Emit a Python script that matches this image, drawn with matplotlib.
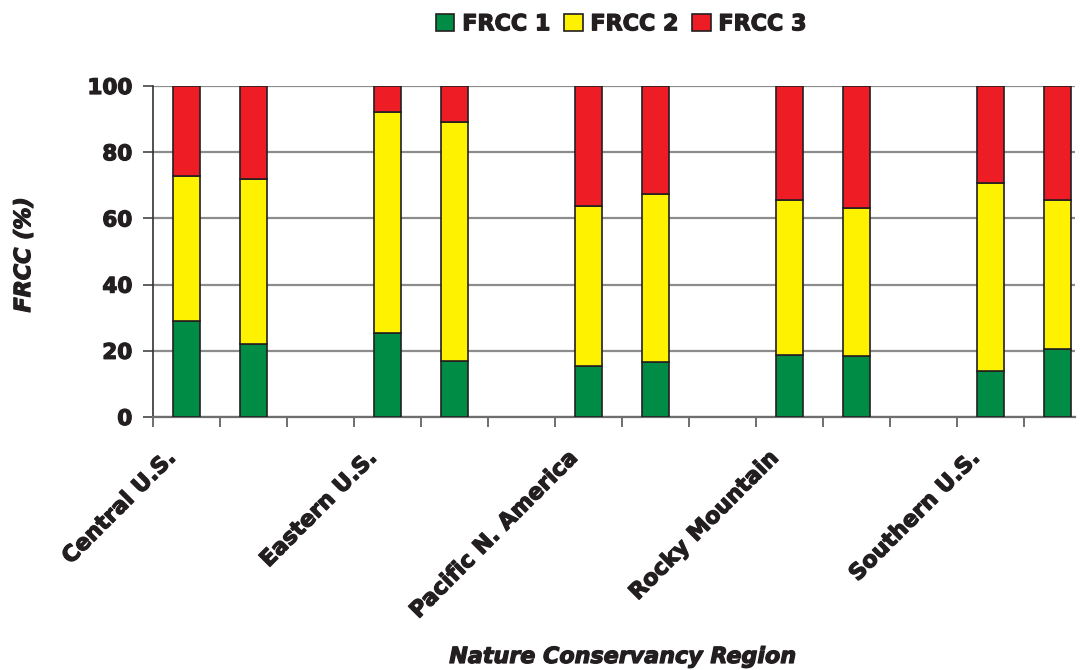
import matplotlib
matplotlib.use("Agg")
import matplotlib.pyplot as plt
import matplotlib.patheffects as pe
import matplotlib.transforms as mtransforms
from matplotlib.patches import Patch
import numpy as np

# Regions: two bars each, with an empty slot between groups
regions = ["Central U.S.", "Eastern U.S.", "Pacific N. America", "Rocky Mountain", "Southern U.S."]
series_names = ["FRCC 1", "FRCC 2", "FRCC 3"]
frcc1 = [29.0, 22.0, 25.4, 17.0, 15.3, 16.5, 18.7, 18.4, 13.8, 20.5]
frcc2 = [43.8, 50.0, 66.8, 72.1, 48.5, 50.8, 46.8, 44.6, 56.8, 45.0]
frcc3 = [27.2, 28.0, 7.8, 10.9, 36.2, 32.7, 34.5, 37.0, 29.4, 34.5]
colors = ["#008C44", "#FFF200", "#EE1C25"]
y_ticks = [0, 20, 40, 60, 80, 100]

TXT = "#231F20"
heavy = [pe.withStroke(linewidth=0.9, foreground=TXT)]

plt.rcParams["font.family"] = ["DejaVu Sans"]
plt.rcParams["font.weight"] = "bold"

fig = plt.figure(figsize=(10.84, 6.70), dpi=100)
ax = fig.add_axes([153 / 1084, 1 - 417 / 670, (1075 - 153) / 1084, (417 - 86) / 670])

# slot index of each bar: groups of 2 separated by a gap slot
positions = []
for g in range(len(regions)):
    positions += [3 * g, 3 * g + 1]
positions = np.array(positions)

bottom = np.zeros(len(positions))
for vals, col in zip([frcc1, frcc2, frcc3], colors):
    vals = np.array(vals)
    ax.bar(positions, vals, width=0.41, bottom=bottom, color=col,
           edgecolor=TXT, linewidth=1.2, zorder=3)
    bottom += vals

ax.set_xlim(-0.5, 13.26)
ax.set_ylim(0, 100)
ax.set_yticks(y_ticks)
ax.set_yticklabels([str(v) for v in y_ticks], fontsize=15.5, fontweight="bold", color=TXT)
ax.yaxis.grid(True, color="#8C8C8C", linewidth=1.6, zorder=0)
ax.set_axisbelow(True)

for s in ["top", "right"]:
    ax.spines[s].set_visible(False)
ax.spines["left"].set_color("#333333")
ax.spines["left"].set_linewidth(1.2)
ax.spines["bottom"].set_color("#6E6E6E")
ax.spines["bottom"].set_linewidth(1.6)
ax.tick_params(axis="y", length=7, width=1.2, color="#444444", pad=8)

# category labels at the first bar of each group; tick marks at slot boundaries
ax.set_xticks([3 * g for g in range(len(regions))])
ax.set_xticklabels(regions, rotation=45, ha="right", va="center",
                   rotation_mode="anchor", fontsize=16, fontweight="bold", color=TXT)
ax.tick_params(axis="x", which="major", length=0, pad=27)
ax.set_xticks(np.arange(-0.5, 13.3, 1.0), minor=True)
ax.tick_params(axis="x", which="minor", length=7, width=1.2, color="#555555")

shift = mtransforms.ScaledTranslation(-14 / 100, 0, fig.dpi_scale_trans)
for lbl in ax.get_xticklabels():
    lbl.set_transform(lbl.get_transform() + shift)
    lbl.set_path_effects(heavy)
for lbl in ax.get_yticklabels():
    lbl.set_path_effects(heavy)

ylab = ax.set_ylabel("FRCC (%)", fontsize=16, fontweight="bold", fontstyle="italic", color=TXT)
ax.yaxis.set_label_coords(-0.129, 0.49)
ylab.set_path_effects(heavy)
xlab = fig.text(623 / 1084, 1 - 657 / 670, "Nature Conservancy Region", ha="center", va="center",
                fontsize=16, fontweight="bold", fontstyle="italic", color=TXT)
xlab.set_path_effects(heavy)

handles = [Patch(facecolor=c, edgecolor=TXT, linewidth=1.2) for c in colors]
leg = fig.legend(handles, series_names, loc="center", bbox_to_anchor=(621 / 1084, 1 - 24 / 670),
                 ncol=3, frameon=False, handlelength=0.85, handleheight=0.85, handletextpad=0.35,
                 columnspacing=0.6, prop={"size": 16, "weight": "bold"})
for t in leg.get_texts():
    t.set_color(TXT)
    t.set_path_effects(heavy)

fig.savefig("out.png", dpi=100)
